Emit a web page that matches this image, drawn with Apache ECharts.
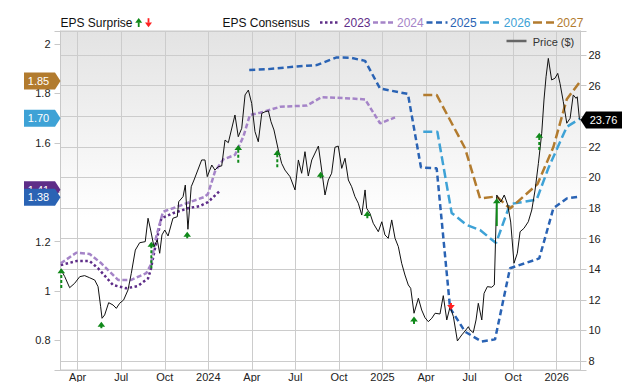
<!DOCTYPE html>
<html><head><meta charset="utf-8">
<script src="https://cdn.jsdelivr.net/npm/echarts@6/dist/echarts.min.js"></script>
<style>html,body{margin:0;padding:0;background:#fff}#c{width:640px;height:382px}</style>
</head><body><div id="c"></div>
<script>
// ---- Data (dates as decimal years) ----
const priceDates = [
 2023.153,2023.176,2023.204,2023.233,2023.262,2023.290,2023.319,2023.348,2023.367,2023.382,
 2023.390,2023.405,2023.428,2023.453,2023.472,2023.491,2023.514,2023.539,2023.558,2023.581,
 2023.606,2023.638,2023.654,2023.669,2023.688,2023.707,2023.721,2023.734,2023.750,2023.769,
 2023.797,2023.822,2023.830,2023.855,2023.868,2023.883,2023.902,2023.918,2023.962,2023.981,
 2023.994,2024.020,2024.038,2024.057,2024.077,2024.096,2024.115,2024.153,2024.172,2024.192,
 2024.211,2024.230,2024.249,2024.268,2024.287,2024.307,2024.326,2024.345,2024.360,2024.377,
 2024.402,2024.421,2024.440,2024.469,2024.498,2024.517,2024.536,2024.555,2024.574,2024.594,
 2024.632,2024.647,2024.670,2024.689,2024.708,2024.727,2024.746,2024.766,2024.785,2024.804,
 2024.823,2024.842,2024.861,2024.881,2024.900,2024.909,2024.928,2024.947,2024.976,2024.996,
 2025.014,2025.033,2025.053,2025.072,2025.091,2025.110,2025.129,2025.148,2025.162,2025.181,
 2025.206,2025.225,2025.244,2025.263,2025.283,2025.302,2025.330,2025.349,2025.369,2025.388,
 2025.407,2025.430,2025.455,2025.479,2025.493,2025.502,2025.521,2025.537,2025.550,2025.570,
 2025.583,2025.602,2025.627,2025.642,2025.656,2025.679,2025.699,2025.719,2025.736,2025.755,
 2025.774,2025.790,2025.812,2025.837,2025.857,2025.876,2025.895,2025.914,2025.927,2025.939,
 2025.952,2025.971,2025.990,2026.006,2026.019,2026.038,2026.058,2026.077,2026.095,2026.111,
 2026.118,2026.130,2026.136];
const priceValues = [
 13.99,13.51,12.79,13.08,13.51,13.58,13.44,13.29,12.86,11.55,
 10.79,11.01,11.81,11.66,11.44,11.77,11.99,12.64,13.73,15.25,
 15.73,15.80,17.33,16.56,15.47,15.91,15.04,16.24,16.56,16.17,
 17.33,17.43,18.41,18.74,19.50,16.61,19.39,19.83,21.14,21.14,
 20.05,20.81,20.48,20.70,20.75,22.44,22.27,24.08,22.66,23.21,
 25.39,25.71,24.84,22.99,22.33,24.19,24.29,24.35,23.64,23.10,
 21.79,20.92,20.48,20.05,19.18,21.14,20.27,21.68,20.09,21.14,
 22.05,20.81,18.85,19.83,20.27,21.97,22.05,20.59,21.25,19.83,
 19.39,18.74,18.31,17.54,19.18,17.98,17.65,17.00,16.45,17.10,
 16.24,16.02,17.22,16.02,15.47,14.39,13.62,12.97,12.75,11.12,
 12.10,11.33,10.83,10.57,10.79,11.12,11.07,12.27,10.68,11.55,
 10.90,9.31,9.70,10.03,10.24,10.03,9.85,10.68,11.77,10.68,
 12.42,12.86,12.82,12.97,18.85,18.39,18.85,18.20,17.08,14.39,
 15.04,16.45,16.67,17.10,17.87,19.18,20.92,22.88,25.06,26.58,
 27.78,26.37,26.48,26.80,26.15,24.95,23.54,23.86,25.39,25.17,
 25.27,23.86,23.76];

const eps2023Dates = [2023.153,2023.242,2023.319,2023.367,2023.453,2023.529,2023.596,2023.654,2023.669,2023.692,2023.730,2023.797,2023.883,2023.952,2023.998,2024.067];
const eps2023Values = [1.105,1.121,1.121,1.092,1.024,1.011,1.020,1.051,1.085,1.166,1.294,1.315,1.335,1.344,1.360,1.406];

const eps2024Dates = [2023.153,2023.242,2023.319,2023.386,2023.482,2023.558,2023.644,2023.669,2023.701,2023.740,2023.797,2023.902,2023.979,2023.998,2024.038,2024.086,2024.153,2024.201,2024.239,2024.297,2024.412,2024.565,2024.651,2024.814,2024.900,2024.986,2025.072];
const eps2024Values = [1.112,1.155,1.150,1.112,1.045,1.045,1.072,1.105,1.220,1.321,1.335,1.362,1.381,1.393,1.483,1.533,1.551,1.625,1.713,1.722,1.746,1.751,1.785,1.780,1.776,1.679,1.703];

const eps2025Dates = [2024.235,2024.335,2024.488,2024.622,2024.737,2024.814,2024.900,2024.986,2025.146,2025.221,2025.311,2025.388,2025.474,2025.570,2025.646,2025.732,2025.900,2025.981,2026.058,2026.134];
const eps2025Values = [1.895,1.898,1.908,1.915,1.946,1.945,1.932,1.820,1.798,1.500,1.497,0.931,0.835,0.795,0.804,1.092,1.132,1.335,1.375,1.382];

const eps2026Dates = [2025.234,2025.315,2025.397,2025.484,2025.560,2025.652,2025.732,2025.885,2025.952,2026.058,2026.134];
const eps2026Values = [1.645,1.645,1.316,1.267,1.247,1.194,1.352,1.370,1.497,1.665,1.698];

const eps2027Dates = [2025.234,2025.311,2025.474,2025.560,2025.655,2025.732,2025.890,2025.981,2026.058,2026.134];
const eps2027Values = [1.794,1.794,1.578,1.375,1.383,1.334,1.433,1.583,1.777,1.848];

// EPS surprise arrows (price units on the right axis)
const surpriseDates = [2023.156,2023.386,2023.673,2023.879,2024.172,2024.396,2024.645,2024.913,2025.181,2025.393,2025.656,2025.900];
const surpriseLow   = [12.77,10.14,14.06,16.02,20.96,20.66,19.94,17.33,10.42,11.33,16.82,21.79];
const surpriseHigh  = [14.06,10.57,15.80,16.45,22.12,21.79,20.37,17.80,10.90,11.79,18.63,22.92];
const surpriseKind  = ['up','up','up','up','up','up','up','up','up','down','upSolid','up'];

const seriesNames = ['2023','2024','2025','2026','2027'];
const badgeLabels = ['1.85','1.70','1.41','1.38'];
const badgeValues = [1.85,1.70,1.41,1.38];
const lastPriceLabel = '23.76';
const lastPrice = 23.76;
const monthNames = ['Apr','Jul','Oct'];
// axis tick labels hidden under the value badges in the reference
const hiddenLeftTicks = [1.4];
const hiddenRightTicks = [24];

// ---- Styling ----
const FONT = '"Liberation Sans", Arial, Helvetica, sans-serif';
const C = {c2023:'#5e2d88', c2024:'#a584c8', c2025:'#2a63b4', c2026:'#3ea2d6', c2027:'#b27b2e', green:'#10891a', red:'#ff2020'};
const toM = y => (y - 2023) * 12;
const pairs = (xs, ys) => xs.map((x, i) => [toM(x), ys[i]]);
const isMult = (v, s) => Math.abs(v / s - Math.round(v / s)) < 1e-6;
const near = (v, list) => list.some(t => Math.abs(v - t) < 1e-6);

const chart = echarts.init(document.getElementById('c'), null, {renderer: 'svg'});

function epsLine(name, xs, ys, color, dash, width) {
  return {type:'line', name, yAxisIndex:0, data: pairs(xs, ys), symbol:'none', showSymbol:false,
    lineStyle:{color, width, type:dash, cap:'butt'}, z:3, silent:true};
}

const option = {
  animation: false,
  grid: {left:60.5, right:59.5, top:31, bottom:12, show:true, outerBoundsMode:'none',
    backgroundColor: new echarts.graphic.LinearGradient(0,0,0,1,[{offset:0,color:'#e3e3e3'},{offset:0.55,color:'#ffffff'},{offset:1,color:'#ffffff'}]),
    borderColor:'#c8c8c8', borderWidth:1},
  xAxis: {type:'value', min: toM(2023.1515), max: toM(2026.1367), splitNumber:12, minInterval:3, maxInterval:3,
    axisLine:{show:true, lineStyle:{color:'#c8c8c8'}}, axisTick:{show:false},
    splitLine:{show:true, lineStyle:{color:'#cccccc', width:1}},
    axisLabel:{margin:1, fontSize:11, lineHeight:11, color:'#222', fontFamily:FONT, showMinLabel:true, showMaxLabel:true,
      formatter: v => {
        if (!isMult(v, 3)) return '';
        const m = Math.round(v);
        if (m % 12 === 0) return String(2023 + m / 12);
        return monthNames[(m % 12) / 3 - 1];
      }}},
  yAxis: [
    {type:'value', position:'left', min:0.68, max:2.053, splitNumber:7, minInterval:0.2, maxInterval:0.2,
      axisLine:{show:true, lineStyle:{color:'#c8c8c8'}},
      axisTick:{show:true, inside:false, length:6, lineStyle:{color:'#c8c8c8'}},
      splitLine:{show:false},
      axisLabel:{margin:10, fontSize:11, color:'#222', fontFamily:FONT, showMinLabel:true, showMaxLabel:true,
        formatter: v => (isMult(v, 0.2) && !near(v, hiddenLeftTicks)) ? String(+v.toFixed(1)) : ''}},
    {type:'value', position:'right', min:7.41, max:29.57, splitNumber:11, minInterval:2, maxInterval:2,
      axisLine:{show:true, lineStyle:{color:'#c8c8c8'}},
      axisTick:{show:true, inside:false, length:6, lineStyle:{color:'#c8c8c8'}},
      splitLine:{show:true, lineStyle:{color:'#cccccc', width:1}},
      axisLabel:{margin:8, fontSize:11, color:'#222', fontFamily:FONT, showMinLabel:true, showMaxLabel:true,
        formatter: v => (isMult(v, 2) && !near(v, hiddenRightTicks)) ? String(Math.round(v)) : ''}}
  ],
  series: [
    epsLine(seriesNames[0], eps2023Dates, eps2023Values, C.c2023, [2.5,2.5], 2.5),
    epsLine(seriesNames[1], eps2024Dates, eps2024Values, C.c2024, [5,2.5], 2.5),
    epsLine(seriesNames[2], eps2025Dates, eps2025Values, C.c2025, [6,3.5], 2.5),
    epsLine(seriesNames[3], eps2026Dates, eps2026Values, C.c2026, [9,4], 2.5),
    epsLine(seriesNames[4], eps2027Dates, eps2027Values, C.c2027, [9,4], 2.5),
    {type:'line', name:'Price ($)', yAxisIndex:1, data: pairs(priceDates, priceValues), symbol:'none', showSymbol:false,
      lineStyle:{color:'#111', width:1}, z:4, silent:true},
    {type:'custom', name:'EPS Surprise', yAxisIndex:1, z:6, silent:true, clip:false,
      data: surpriseDates.map((d, i) => [toM(d), surpriseLow[i], surpriseHigh[i], surpriseKind[i] === 'down' ? 2 : (surpriseKind[i] === 'upSolid' ? 1 : 0)]),
      encode:{x:0, y:[1,2]},
      renderItem: (params, api) => {
        const x = api.value(0), lo = api.value(1), hi = api.value(2), k = api.value(3);
        const pLo = api.coord([x, lo]), pHi = api.coord([x, hi]);
        const x0 = pLo[0];
        const color = k === 2 ? C.red : C.green;
        const dash = k === 1 ? null : [3, 2];
        if (k === 2) {
          const tip = pLo[1];
          return {type:'group', children:[
            {type:'line', shape:{x1:x0, y1:pHi[1], x2:x0, y2:tip-4}, style:{stroke:color, lineWidth:2, lineDash:dash}},
            {type:'polygon', shape:{points:[[x0-3.8,tip-5],[x0+3.8,tip-5],[x0,tip]]}, style:{fill:color}}
          ]};
        }
        const tip = pHi[1];
        return {type:'group', children:[
          {type:'line', shape:{x1:x0, y1:pLo[1], x2:x0, y2:tip+4}, style:{stroke:color, lineWidth:2, lineDash:dash}},
          {type:'polygon', shape:{points:[[x0-3.8,tip+5],[x0+3.8,tip+5],[x0,tip]]}, style:{fill:color}}
        ]};
      }}
  ]
};
chart.setOption(option);

// ---- Legend and value badges (positions from the library's scales) ----
function txt(x, y, text, color, size, align) {
  return {type:'text', x, y, z:50, style:{text, fill:color, font: size + 'px ' + FONT,
    align: align || 'left', textAlign: align || 'left', verticalAlign:'middle', textVerticalAlign:'middle'}};
}
function seg(x1, x2, y, color, dash, w) {
  return {type:'line', z:50, shape:{x1, y1:y, x2, y2:y}, style:{stroke:color, lineWidth:w || 2.5, lineDash:dash}};
}
const yL = v => chart.convertToPixel({yAxisIndex:0}, v);
const yR = v => chart.convertToPixel({yAxisIndex:1}, v);
const badgeColors = [C.c2027, C.c2026, C.c2023, C.c2025];
function leftBadge(v, label, color, z) {
  const y = yL(v);
  return {type:'group', z, children:[
    {type:'polygon', z, shape:{points:[[24,y-8.5],[55,y-8.5],[60.5,y],[55,y+8.5],[24,y+8.5]]}, style:{fill:color}},
    {type:'text', z: z+1, x:38.5, y, style:{text:label, fill:'#fff', font:'11px ' + FONT, align:'center', textAlign:'center', verticalAlign:'middle', textVerticalAlign:'middle'}}
  ]};
}
const graphics = [
  txt(60.5, 23, 'EPS Surprise', '#111', 12),
  {type:'polygon', z:50, shape:{points:[[135.2,22.8],[142.2,22.8],[138.7,18]]}, style:{fill:C.green}},
  {type:'rect', z:50, shape:{x:137.8, y:22.5, width:1.8, height:4.5}, style:{fill:C.green}},
  {type:'rect', z:50, shape:{x:147.6, y:18.2, width:1.8, height:4.5}, style:{fill:C.red}},
  {type:'polygon', z:50, shape:{points:[[145,22.4],[152,22.4],[148.5,27.2]]}, style:{fill:C.red}},
  txt(222.4, 23, 'EPS Consensus', '#111', 12),
  seg(320, 340, 22.5, C.c2023, [2.5,2.5]), txt(343.8, 23, seriesNames[0], C.c2023, 12),
  seg(373, 394, 22.5, C.c2024, [5,2.5]),   txt(397, 23, seriesNames[1], C.c2024, 12),
  seg(426.5, 447.5, 22.5, C.c2025, [6,3.5]), txt(450, 23, seriesNames[2], C.c2025, 12),
  seg(480, 499, 22.5, C.c2026, [9,4]),     txt(503.8, 23, seriesNames[3], C.c2026, 12),
  seg(533, 554, 22.5, C.c2027, [9,4]),     txt(556.7, 23, seriesNames[4], C.c2027, 12),
  seg(506.5, 526.5, 41, '#666', null, 2.5), txt(532.7, 42, 'Price ($)', '#333', 11)
];
[0,1,2,3].forEach(i => graphics.push(leftBadge(badgeValues[i], badgeLabels[i], badgeColors[i], 60 + i * 2)));
const yp = yR(lastPrice);
graphics.push({type:'group', z:70, children:[
  {type:'polygon', z:70, shape:{points:[[580.5,yp],[586,yp-8.5],[622,yp-8.5],[622,yp+8.5],[586,yp+8.5]]}, style:{fill:'#000'}},
  {type:'text', z:71, x:603.5, y:yp, style:{text:lastPriceLabel, fill:'#fff', font:'11px ' + FONT, align:'center', textAlign:'center', verticalAlign:'middle', textVerticalAlign:'middle'}}
]});
chart.setOption({graphic: graphics});
</script>
</body></html>
